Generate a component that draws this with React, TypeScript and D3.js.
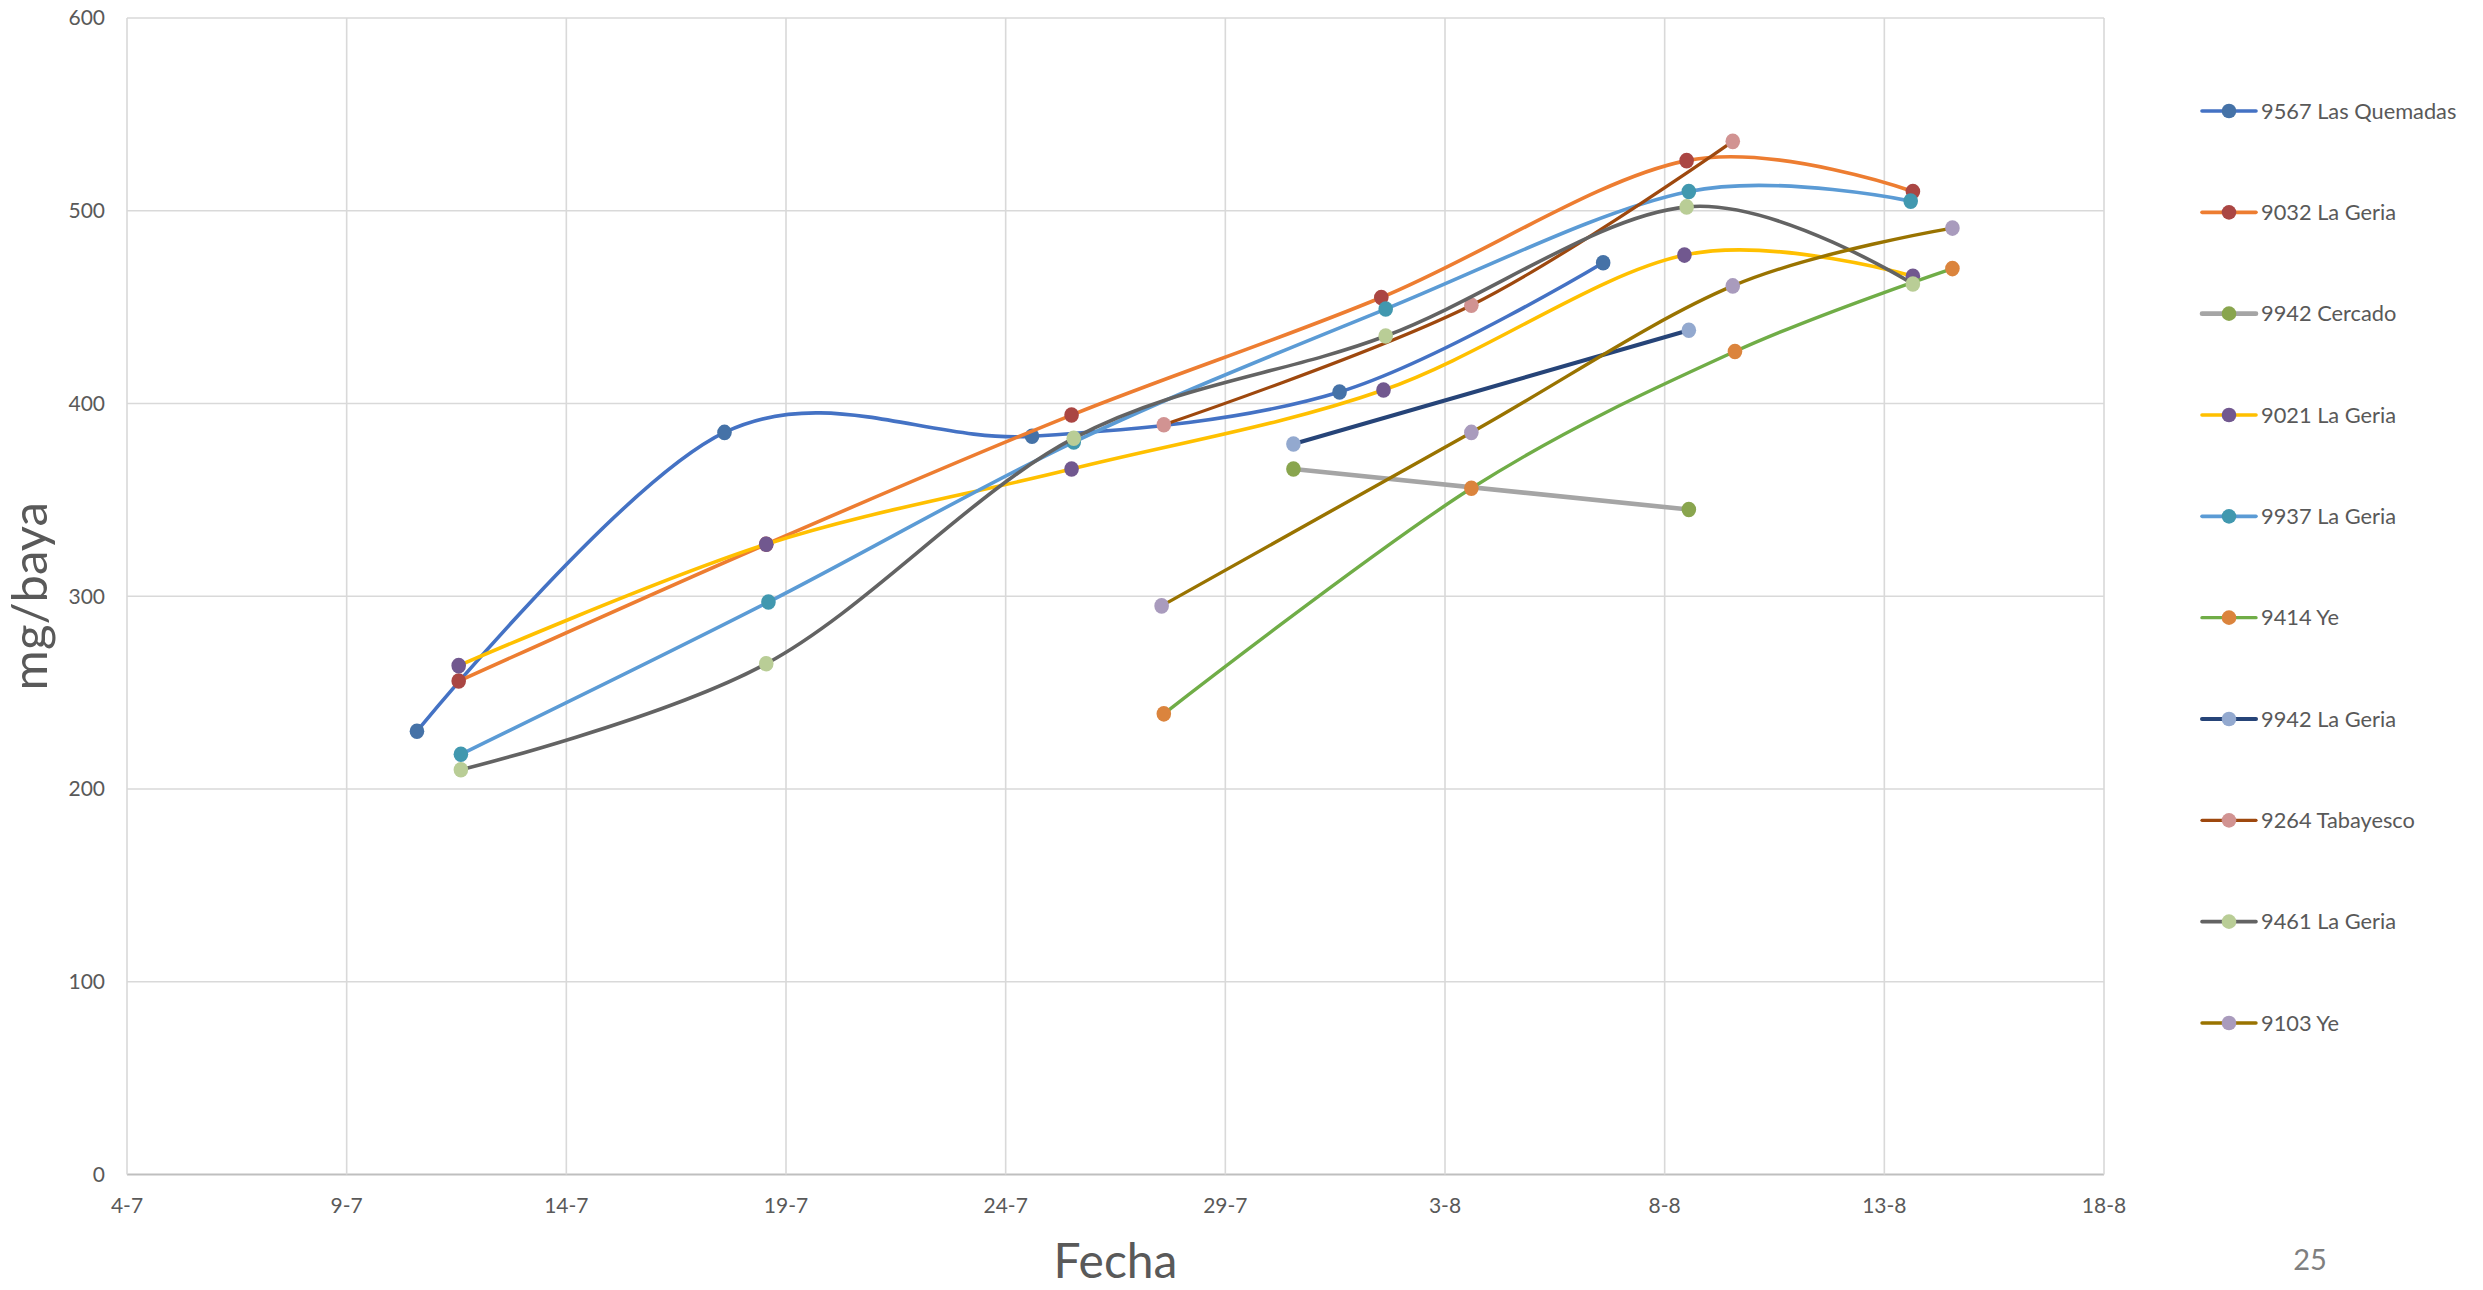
import React from 'react'
import * as d3 from 'd3'

const WIDTH = 2483
const HEIGHT = 1290

// series names, in legend order
const SERIES = [
  '9567 Las Quemadas',
  '9032 La Geria',
  '9942 Cercado',
  '9021 La Geria',
  '9937 La Geria',
  '9414 Ye',
  '9942 La Geria',
  '9264 Tabayesco',
  '9461 La Geria',
  '9103 Ye',
]

// line colours (office theme) and marker colours (excel 2007 palette)
const LINE_COLORS = ['#4472C4', '#ED7D31', '#A5A5A5', '#FFC000', '#5B9BD5', '#70AD47', '#264478', '#9E480E', '#636363', '#997300']
const MARKER_COLORS = ['#4572A7', '#AA4643', '#89A54E', '#71588F', '#4198AF', '#DB843D', '#93A9CF', '#D19392', '#B9CD96', '#A99BBD']
const LINE_WIDTHS = [3.6, 3.6, 4.6, 3.6, 3.6, 3.4, 4, 3.2, 3.6, 3.4]

// sample dates, as day of July (1-8 = 32)
const DAYS = [
  [10.6, 17.6, 24.6, 31.6, 37.6],
  [11.55, 18.55, 25.5, 32.55, 39.5, 44.65],
  [30.55, 39.55],
  [11.55, 18.55, 25.5, 32.6, 39.45, 44.65],
  [11.6, 18.6, 25.55, 32.65, 39.55, 44.6],
  [27.6, 34.6, 40.6, 45.55],
  [30.55, 39.55],
  [27.6, 34.6, 40.55],
  [11.6, 18.55, 25.55, 32.65, 39.5, 44.65],
  [27.55, 34.6, 40.55, 45.55],
]

// mg/baya
const VALUES = [
  [230, 385, 383, 406, 473],
  [256, 327, 394, 455, 526, 510],
  [366, 345],
  [264, 327, 366, 407, 477, 466],
  [218, 297, 380, 449, 510, 505],
  [239, 356, 427, 470],
  [379, 438],
  [389, 451, 536],
  [210, 265, 382, 435, 502, 462],
  [295, 385, 461, 491],
]

const X_TICKS = [4, 9, 14, 19, 24, 29, 34, 39, 44, 49]
const X_LABELS = ['4-7', '9-7', '14-7', '19-7', '24-7', '29-7', '3-8', '8-8', '13-8', '18-8']
const Y_TICKS = [0, 100, 200, 300, 400, 500, 600]

const FONT = 'Lato, "Open Sans", sans-serif'
const TEXT = '#595959'

export default function App() {
  const x = d3.scaleLinear().domain([4, 49]).range([127, 2104])
  const y = d3.scaleLinear().domain([0, 600]).range([1174.5, 18])

  const line = d3.line<[number, number]>()
    .x(d => x(d[0]))
    .y(d => y(d[1]))
    .curve(d3.curveCardinal.tension(0))

  const legendY = d3.scalePoint<number>()
    .domain(d3.range(SERIES.length))
    .range([111, 1023])

  return (
    <svg width={WIDTH} height={HEIGHT} style={{ position: 'absolute', left: 0, top: 0, background: '#fff' }} fontFamily={FONT}>
      {/* grid */}
      {Y_TICKS.map(t => (
        <line key={'gy' + t} x1={x(4)} x2={x(49)} y1={y(t)} y2={y(t)}
          stroke={t === 0 ? '#BFBFBF' : '#D9D9D9'} strokeWidth={t === 0 ? 2 : 1.6} />
      ))}
      {X_TICKS.map(t => (
        <line key={'gx' + t} x1={x(t)} x2={x(t)} y1={y(600)} y2={y(0)} stroke='#D9D9D9' strokeWidth={1.6} />
      ))}

      {/* axis labels */}
      {Y_TICKS.map(t => (
        <text key={'ly' + t} x={105} y={y(t)} dy='0.35em' textAnchor='end' fontSize={21} fill={TEXT}>{t}</text>
      ))}
      {X_TICKS.map((t, i) => (
        <text key={'lx' + t} x={x(t)} y={1213} textAnchor='middle' fontSize={21} fill={TEXT}>{X_LABELS[i]}</text>
      ))}
      <text x={(x(4) + x(49)) / 2} y={1278} textAnchor='middle' fontSize={48} fill={TEXT}>Fecha</text>
      <text transform={`translate(47, ${(y(0) + y(600)) / 2}) rotate(-90)`} textAnchor='middle' fontSize={49} fill={TEXT}>mg/baya</text>

      {/* series */}
      {SERIES.map((name, i) => {
        const pts = DAYS[i].map((d, j) => [d, VALUES[i][j]] as [number, number])
        return (
          <g key={name}>
            <path d={line(pts) || ''} fill='none' stroke={LINE_COLORS[i]} strokeWidth={LINE_WIDTHS[i]} strokeLinecap='round' />
            {pts.map((p, j) => (
              <ellipse key={j} cx={x(p[0])} cy={y(p[1])} rx={7.3} ry={7.8} fill={MARKER_COLORS[i]} />
            ))}
          </g>
        )
      })}

      {/* legend */}
      {SERIES.map((name, i) => (
        <g key={'leg' + i} transform={`translate(2202, ${legendY(i)})`}>
          <line x1={0} x2={54} y1={0} y2={0} stroke={LINE_COLORS[i]} strokeWidth={LINE_WIDTHS[i]} strokeLinecap='round' />
          <circle cx={27} cy={0} r={7.3} fill={MARKER_COLORS[i]} />
          <text x={59} y={0} dy='0.35em' fontSize={21.8} fill={TEXT}>{name}</text>
        </g>
      ))}

      <text x={2310} y={1270} textAnchor='middle' fontSize={29} fill='#7F7F7F'>25</text>
    </svg>
  )
}
